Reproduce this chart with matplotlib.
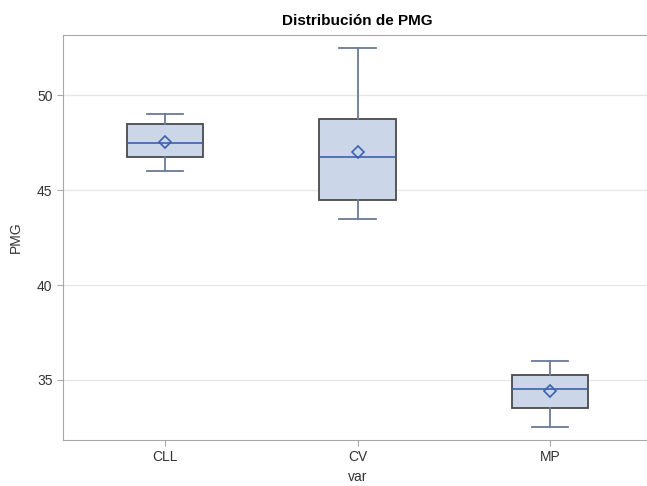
import matplotlib
matplotlib.use("Agg")
from matplotlib import pyplot as plt

plt.rcParams["font.family"] = ["Liberation Sans", "DejaVu Sans"]

categories = ["CLL", "CV", "MP"]
whisker_low = [46.0, 43.5, 32.5]
q1 = [46.75, 44.5, 33.5]
medians = [47.5, 46.75, 34.5]
q3 = [48.5, 48.75, 35.25]
whisker_high = [49.0, 52.5, 36.0]
means = [47.55, 47.0, 34.4]
y_ticks = [35, 40, 45, 50]

stats = []
for i, name in enumerate(categories):
    stats.append({"label": name, "whislo": whisker_low[i], "q1": q1[i], "med": medians[i],
                  "q3": q3[i], "whishi": whisker_high[i], "mean": means[i], "fliers": []})

fig = plt.figure(figsize=(6.47, 4.86), dpi=100)
ax = fig.add_axes([63 / 647, 46 / 486, 589 / 647, 405 / 486])

whisk = "#6b7a99"
ax.bxp(stats, positions=range(len(categories)), widths=0.395, capwidths=0.19,
       patch_artist=True, showmeans=True,
       boxprops=dict(facecolor="#cbd6e8", edgecolor="#4a4a4a", linewidth=1.3),
       whiskerprops=dict(color=whisk, linewidth=1.3),
       capprops=dict(color=whisk, linewidth=1.3),
       medianprops=dict(color="#3d60b0", linewidth=1.2),
       meanprops=dict(marker="D", markersize=6, markerfacecolor="none",
                      markeredgecolor="#3d60b0", markeredgewidth=1.2), zorder=3)

ax.set_xlim(-0.53, 2.53)
ax.set_ylim(31.83, 53.19)
ax.set_yticks(y_ticks)
ax.yaxis.grid(True, color="#e6e6e6", linewidth=1)
ax.set_axisbelow(True)
for s in ax.spines.values():
    s.set_color("#a8a8a8")
ax.spines["right"].set_visible(False)
ax.tick_params(colors="#a8a8a8", labelcolor="#333333", labelsize=10, length=4)

ax.set_title("Distribución de PMG", fontsize=11, fontweight="bold", pad=7)
ax.set_ylabel("PMG", fontsize=10, color="#333333", labelpad=10)
ax.set_xlabel("var", fontsize=10, color="#333333")

fig.savefig("out.png", dpi=100)
